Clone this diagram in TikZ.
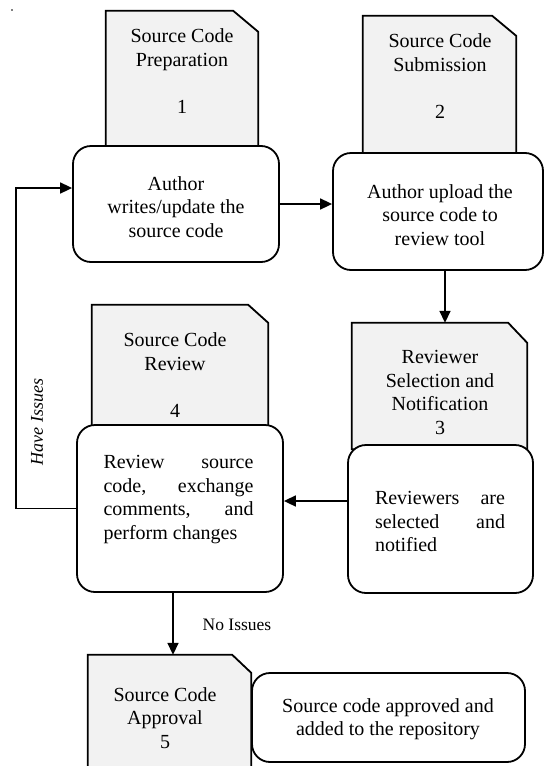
\documentclass[tikz,border=0pt]{standalone}
\usepackage{fontspec}
\setmainfont{Liberation Serif}
\usetikzlibrary{arrows.meta}
\definecolor{docgray}{RGB}{242,242,242}
\tolerance=10000
\hyphenpenalty=10000
\exhyphenpenalty=10000
\tikzset{
  base/.style={font=\fontsize{20}{23.5}\selectfont},
  docarea/.style={rectangle, inner sep=0pt, draw=none},
  docshape/.style={draw=black, fill=docgray, line width=1.8pt, line join=miter},
  txt/.style={base, align=center, inner sep=0pt},
  jtxt/.style={base, align=justify, inner sep=0pt},
  rbox/.style={draw=black, fill=white, line width=1.8pt, rounded corners=18pt, inner sep=0pt},
  arr/.style={line width=1.7pt, -{Triangle[length=12pt,width=11pt]}},
  lbl/.style={inner sep=0pt}
}
\newcommand{\docpath}[3]{%
  \path[docshape] (#1.south west) -- (#1.north west) -- ([xshift=-#2]#1.north east)
    -- ([yshift=-#3]#1.north east) -- (#1.south east) -- cycle;}
\begin{document}
\begin{tikzpicture}[x=1pt,y=-1pt]
\useasboundingbox (0,0) rectangle (545,766);
\fill (12,10) circle (0.8);

% document shapes (areas)
\node[docarea, minimum width=152pt, minimum height=139pt] (D1) at (182,80.5) {};
\node[docarea, minimum width=153pt, minimum height=141pt] (D2) at (439.5,86.5) {};
\node[docarea, minimum width=175pt, minimum height=126pt] (D3) at (439.5,386) {};
\node[docarea, minimum width=176pt, minimum height=124pt] (D4) at (180,367) {};
\node[docarea, minimum width=163pt, minimum height=124pt] (D5) at (169.5,717) {};
\docpath{D1}{25pt}{21pt}
\docpath{D2}{24pt}{20pt}
\docpath{D3}{19pt}{20pt}
\docpath{D4}{20pt}{18pt}
\docpath{D5}{19pt}{18pt}

% document texts
\node[txt] (T1) at (182,71) {Source Code\\Preparation\\~\\1};
\node[txt] (T2) at (440,76) {Source Code\\Submission\\~\\2};
\node[txt] (T3) at (440,392.5) {Reviewer\\Selection and\\Notification\\3};
\node[txt] (T4) at (175,375) {Source Code\\Review\\~\\4};
\node[txt] (T5) at (165,718) {Source Code\\Approval\\5};

% rounded boxes
\node[rbox, minimum width=206pt, minimum height=116pt] (B1) at (176,204) {};
\node[rbox, minimum width=210pt, minimum height=117pt] (B2) at (438,211.5) {};
\node[rbox, minimum width=185pt, minimum height=148pt] (B3) at (440.5,519) {};
\node[rbox, minimum width=206pt, minimum height=167pt] (B4) at (180,508.5) {};
\node[rbox, minimum width=273pt, minimum height=89pt] (B5) at (388.5,717.5) {};

\node[txt] at (B1) [yshift=-3pt] {Author\\writes/update the\\source code};
\node[txt] at (440,215) {Author upload the\\source code to\\review tool};
\node[jtxt, text width=130pt] at (440,521.5) {Reviewers are selected and notified};
\node[jtxt, text width=150pt] at (178.5,499.5) {Review source code, exchange comments, and perform changes};
\node[txt] at (388,719) {Source code approved and\\added to the repository};

% connectors
\draw[arr] (B1.east) -- (B1.east -| B2.west);
\draw[arr] ([xshift=7pt]B2.south) -- ([xshift=7pt]B2.south |- D3.north);
\draw[arr] ([yshift=18pt]B3.west) -- ([yshift=18pt]B3.west -| B4.east);
\draw[arr] (B4.west) -- ++(-60,0) |- ([yshift=16pt]B1.west);
\draw[arr] ([xshift=-7pt]B4.south) -- ([xshift=-7pt]B4.south |- D5.north);

% labels
\node[lbl, rotate=90, font=\fontsize{18}{20}\selectfont\itshape] (HI) at (37,422) {Have Issues};
\node[lbl, font=\fontsize{17.5}{20}\selectfont] (NI) at (237,625) {No Issues};
\end{tikzpicture}
\end{document}
